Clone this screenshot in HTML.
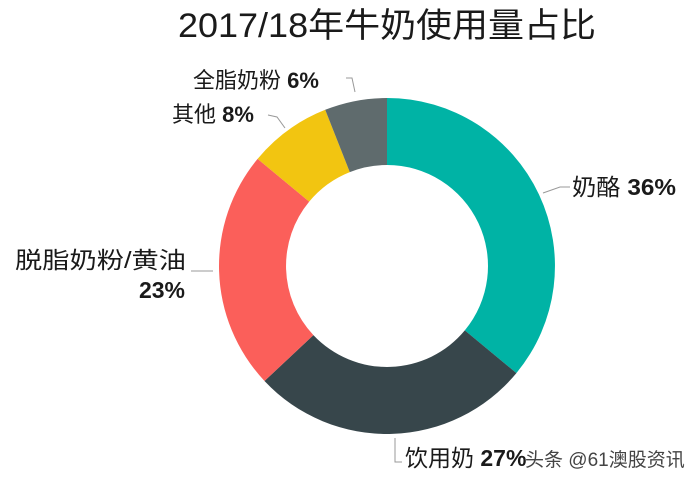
<!DOCTYPE html>
<html><head><meta charset="utf-8"><style>
html,body{margin:0;padding:0;background:#fff;}
svg{display:block;}
text{font-family:"Liberation Sans","Noto Sans CJK SC",sans-serif;fill:#1a1a1a;}
</style></head><body>
<svg width="691" height="479" viewBox="0 0 691 479">
<text x="387" y="37" font-size="34" text-anchor="middle" textLength="418" lengthAdjust="spacingAndGlyphs">2017/18年牛奶使用量占比</text>
<path d="M387,98 A168,168 0 0 1 516.4,373.1 L464.8,330.4 A101,101 0 0 0 387,165 Z" fill="#00b3a5"/>
<path d="M516.4,373.1 A168,168 0 0 1 264.5,381.0 L313.4,335.1 A101,101 0 0 0 464.8,330.4 Z" fill="#37464b"/>
<path d="M264.5,381.0 A168,168 0 0 1 257.6,158.9 L309.2,201.6 A101,101 0 0 0 313.4,335.1 Z" fill="#fb5f5a"/>
<path d="M257.6,158.9 A168,168 0 0 1 325.2,109.8 L349.8,172.1 A101,101 0 0 0 309.2,201.6 Z" fill="#f2c511"/>
<path d="M325.2,109.8 A168,168 0 0 1 387,98 L387,165 A101,101 0 0 0 349.8,172.1 Z" fill="#5f6b6d"/>
<g stroke="#999" stroke-width="1" fill="none">
<polyline points="543,193 560,187 570,187"/>
<polyline points="395,438 395,462 402,462"/>
<polyline points="191,271 213,271"/>
<polyline points="285,128 277,117 268,115"/>
<polyline points="355,92 352,78 346,78"/>
</g>
<text x="572" y="195" font-size="23" textLength="104" lengthAdjust="spacingAndGlyphs">奶酪 <tspan font-weight="bold">36%</tspan></text>
<text x="405" y="466" font-size="23">饮用奶 <tspan font-weight="bold">27%</tspan></text>
<text x="193" y="88" font-size="22">全脂奶粉 <tspan font-weight="bold">6%</tspan></text>
<text x="172" y="122" font-size="22">其他 <tspan font-weight="bold">8%</tspan></text>
<text x="15" y="268" font-size="23" textLength="171" lengthAdjust="spacingAndGlyphs">脱脂奶粉/黄油</text>
<text x="185" y="298" font-size="23" font-weight="bold" text-anchor="end">23%</text>
<text x="525" y="466" font-size="19" style="fill:#444">头条 @61澳股资讯</text>
</svg>
</body></html>
